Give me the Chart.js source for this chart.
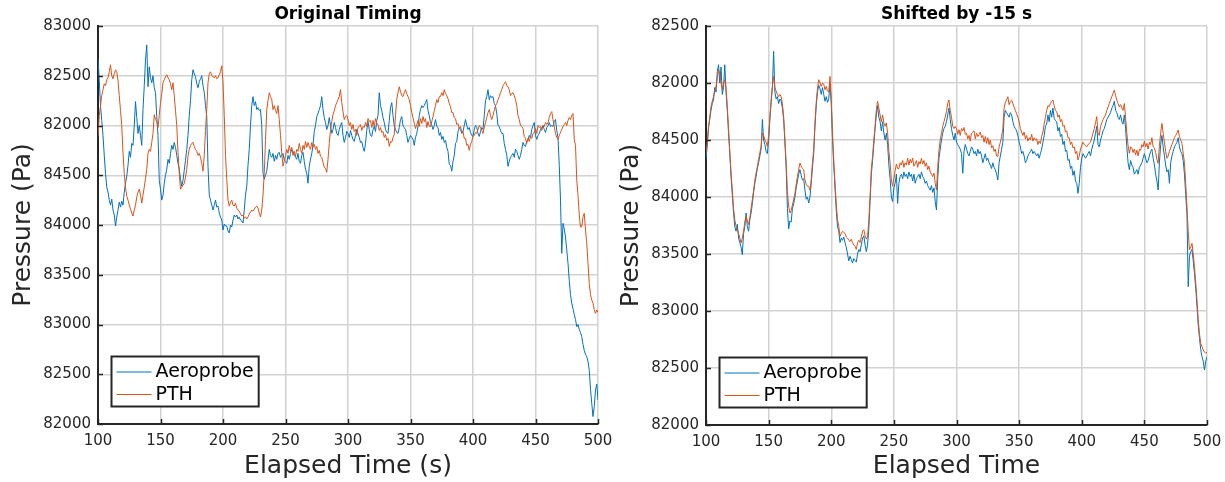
<!DOCTYPE html>
<html>
<head>
<meta charset="utf-8">
<script src="https://cdn.jsdelivr.net/npm/chart.js@4.4.1/dist/chart.umd.min.js"></script>
<style>
  html, body { margin: 0; padding: 0; background: #ffffff; }
  #wrap { position: relative; width: 1225px; height: 482px; overflow: hidden; }
  canvas { position: absolute; top: 0; }
  #c1 { left: 0; }
  #c2 { left: 614px; }
</style>
</head>
<body>
<div id="wrap">
  <canvas id="c1" width="614" height="482"></canvas>
  <canvas id="c2" width="611" height="482"></canvas>
</div>
<script>
// Sampling of every series: one value per second from t = 100 s to t = 500 s
const timeStart = 100;
const timeStep = 1;

// Axis tick labels (bottom to top)
const xTicks = [100, 150, 200, 250, 300, 350, 400, 450, 500];
const leftYTickLabels = ['82000', '82500', '83000', '83500', '84000', '84500', '82000', '82500', '83000'];
const rightYTickLabels = ['82000', '82500', '83000', '83500', '84000', '84500', '82000', '82500'];

const seriesNames = ['Aeroprobe', 'PTH'];

// Original timing - Aeroprobe pressure (Pa)
const aeroprobeOriginal = [
  85680, 85450, 85200, 85050, 84900, 84700, 84520, 84380, 84330, 84250,
  84200, 84260, 84150, 84100, 83990, 84080, 84150, 84230, 84180, 84240,
  84200, 84330, 84420, 84490, 84600, 84740, 84680, 84820, 84800, 85000,
  85240, 85080, 84920, 85000, 84900, 84800, 85160, 85400, 85660, 85810,
  85390, 85590, 85480, 85430, 85500, 85380, 85330, 85090, 84900, 84450,
  84360, 84250, 84300, 84420, 84500, 84560, 84660, 84620, 84720, 84800,
  84760, 84830, 84780, 84700, 84620, 84560, 84460, 84390, 84450, 84550,
  84650, 84760, 84900, 85100, 85250, 85460, 85560, 85520, 85490, 85420,
  85380, 85440, 85470, 85500, 85400, 85330, 85200, 85090, 84590, 84300,
  84250, 84200, 84150, 84200, 84250, 84180, 84190, 84120, 84080, 84050,
  83950, 84010, 83990, 83990, 83940, 83920, 84000, 83980, 84050, 84100,
  84080, 84100, 84060, 84080, 84050, 84040, 84020, 84150, 84300, 84390,
  84600, 84760, 85000, 85200, 85290, 85200, 85240, 85160, 85180, 85150,
  85160, 85000, 84520, 84460, 84500, 84540, 84650, 84760, 84700, 84680,
  84720, 84640, 84700, 84660, 84720, 84730, 84680, 84700, 84720, 84650,
  84640, 84620, 84700, 84660, 84720, 84760, 84740, 84700, 84680, 84660,
  84720, 84640, 84620, 84700, 84730, 84640, 84560, 84520, 84420, 84590,
  84660, 84720, 84800, 84940, 85000, 85090, 85120, 85160, 85200, 85290,
  85160, 85080, 85030, 84960, 85000, 85080, 85000, 84920, 84960, 85030,
  84980, 84920, 84900, 84960, 85000, 85030, 84900, 84830, 84880, 84940,
  84920, 84880, 84950, 84900, 84860, 84840, 84900, 84960, 84920, 84880,
  84830, 84840, 84780, 84740, 84820, 84950, 85040, 84960, 84900, 84890,
  84960, 84990, 84940, 85050, 85100, 85330, 85200, 85150, 85080, 85030,
  84960, 84930, 84920, 85050, 85180, 85230, 85100, 85000, 84960, 84930,
  84920, 84980, 85060, 85090, 85000, 84980, 84960, 84900, 84830, 84870,
  84900, 84880, 84860, 84800, 84880, 84920, 84990, 85100, 85160, 85200,
  85180, 85200, 85230, 85260, 85150, 85100, 85030, 85000, 84960, 85000,
  85060, 84990, 84980, 84900, 84930, 84860, 84890, 84830, 84850, 84780,
  84740, 84610, 84600, 84540, 84640, 84700, 84820, 84840, 84940, 84980,
  84960, 84920, 84940, 85000, 85060, 85000, 84960, 84980, 84930, 84900,
  84890, 84960, 85000, 84980, 84920, 84890, 84940, 84980, 84960, 85100,
  85250, 85290, 85360, 85260, 85300, 85280, 85290, 85220, 85200, 85120,
  85000, 84990, 84950, 84920, 84920, 84820, 84760, 84700, 84590, 84640,
  84680, 84700, 84720, 84680, 84760, 84740, 84700, 84660, 84700, 84760,
  84830, 84800, 84790, 84840, 84860, 84900, 84880, 84960, 85000, 85030,
  84900, 84860, 84900, 84920, 84960, 84980, 85000, 84960, 84930, 84980,
  85000, 85030, 84990, 85000, 84990, 85040, 85060, 84950, 84880, 84600,
  84250, 83715, 84017, 83960, 83880, 83750, 83615, 83440, 83300, 83213,
  83160, 83100, 83050, 82978, 83000, 82950, 82920, 82878, 82800, 82740,
  82700, 82676, 82630, 82540, 82350, 82208, 82074, 82174, 82342, 82400,
  82241
];

// Original timing - PTH pressure (Pa)
const pthOriginal = [
  84890, 85100, 85200, 85300, 85360, 85420, 85400, 85460, 85480, 85540,
  85610, 85500, 85470, 85520, 85560, 85540, 85450, 85300, 85150, 85000,
  84720, 84520, 84380, 84290, 84250, 84200, 84160, 84120, 84090, 84150,
  84200, 84280, 84330, 84360, 84300, 84220, 84300, 84380, 84470, 84560,
  84720, 84760, 84740, 84830, 84920, 85110, 85060, 85040, 84980, 85100,
  85230, 85320, 85430, 85460, 85490, 85510, 85480, 85460, 85420, 85360,
  85430, 85300, 85150, 85000, 84730, 84520, 84360, 84380, 84400, 84420,
  84480, 84560, 84690, 84760, 84800, 84820, 84830, 84790, 84760, 84740,
  84700, 84720, 84680, 84620, 84540, 84700, 84950, 85160, 85430, 85520,
  85540, 85500, 85490, 85480, 85500, 85470, 85480, 85510, 85540, 85600,
  85430, 85100, 84700, 84460, 84250, 84190, 84230, 84250, 84200, 84190,
  84220, 84170, 84150, 84140, 84110, 84090, 84100, 84070, 84080, 84060,
  84080, 84110, 84130, 84150, 84140, 84160, 84180, 84190, 84170, 84120,
  84080, 84150, 84300, 84520, 84850, 85160, 85250, 85330, 85290, 85260,
  85160, 85200, 85150, 85120, 85200, 85060, 84900, 84720, 84590, 84640,
  84700, 84760, 84720, 84800, 84740, 84780, 84700, 84740, 84690, 84760,
  84740, 84820, 84760, 84720, 84800, 84760, 84840, 84780, 84830, 84790,
  84760, 84830, 84780, 84810, 84760, 84790, 84720, 84750, 84690, 84680,
  84630, 84580, 84570, 84530, 84660, 84820, 84960, 85040, 85110, 85150,
  85200, 85230, 85260, 85290, 85360, 85230, 85140, 85060, 85090, 85100,
  85060, 85000, 85030, 84960, 85010, 84940, 84960, 84900, 84980, 84990,
  85010, 84950, 84990, 84980, 85030, 84990, 85070, 85040, 85050, 84980,
  85050, 84990, 85070, 85020, 85010, 84950, 84980, 84930, 84940, 84880,
  84910, 84850, 84870, 84790, 84840, 84830, 84880, 84910, 85100, 85260,
  85330, 85390, 85340, 85300, 85290, 85330, 85360, 85320, 85290, 85260,
  85200, 85130, 85080, 85020, 84970, 85010, 85050, 84990, 85070, 85020,
  85090, 85040, 85070, 84980, 85040, 84990, 84990, 85040, 85090, 85150,
  85200, 85260, 85230, 85290, 85290, 85330, 85300, 85360, 85320, 85300,
  85270, 85220, 85190, 85130, 85130, 85080, 85070, 85010, 85020, 84970,
  84990, 84930, 84940, 84870, 84870, 84800, 84810, 84750, 84810, 84840,
  84890, 84900, 84930, 84920, 84960, 85000, 84980, 84950, 84920, 84980,
  85030, 85080, 85130, 85160, 85100, 85060, 85100, 85150, 85200, 85220,
  85260, 85290, 85330, 85360, 85400, 85420, 85440, 85400, 85390, 85360,
  85300, 85320, 85330, 85300, 85260, 85200, 85100, 85060, 85000, 84990,
  84970, 84890, 84870, 84820, 84870, 84840, 84890, 84870, 84920, 84930,
  84970, 84920, 85000, 84980, 84990, 84950, 85000, 84990, 85030, 85010,
  85030, 85080, 85120, 85140, 85060, 84990, 84920, 84880, 84860, 84900,
  84930, 84960, 84990, 85010, 85030, 85000, 85050, 85080, 85060, 85100,
  85120, 84860, 84800, 84450, 84300, 84100, 83980, 83980, 84084, 84118,
  83950, 83820, 83615, 83413, 83300, 83246, 83213, 83150, 83112, 83146,
  83120
];

// Shifted by -15 s - Aeroprobe pressure (Pa)
const aeroprobeShifted = [
  84330, 84450, 84620, 84680, 84760, 84820, 84850, 84960, 84920, 85100,
  85160, 85000, 85140, 84900, 84960, 85160, 84920, 84760, 84560, 84380,
  84180, 84020, 83860, 83740, 83700, 83760, 83640, 83600, 83560, 83494,
  83680, 83740, 83860, 83740, 83700, 83800, 83860, 83940, 84040, 84120,
  84180, 84250, 84300, 84360, 84420, 84680, 84500, 84460, 84400, 84380,
  84500, 84680, 84830, 84960, 85278, 84920, 84860, 84880, 84820, 84860,
  84840, 84780, 84680, 84480, 84250, 83900, 83720, 83790, 83780, 83900,
  83940, 84000, 84080, 84140, 84200, 84240, 84190, 84150, 84160, 84060,
  83980, 84000, 83947, 84000, 84120, 84260, 84380, 84620, 84800, 84920,
  84980, 84950, 84900, 84960, 84900, 84840, 84880, 84830, 84860, 85000,
  84820, 84520, 84280, 84080, 83880, 83740, 83700, 83600, 83640, 83620,
  83650, 83600, 83560, 83500, 83440, 83480, 83450, 83420, 83460, 83440,
  83430, 83500, 83540, 83520, 83580, 83640, 83660, 83580, 83520, 83580,
  83720, 83960, 84200, 84320, 84460, 84600, 84720, 84800, 84700, 84660,
  84580, 84660, 84560, 84500, 84560, 84460, 84280, 84160, 84000, 83960,
  84080, 84120, 84200, 83944, 84120, 84180, 84200, 84160, 84220, 84180,
  84200, 84160, 84220, 84180, 84200, 84140, 84200, 84120, 84160, 84180,
  84200, 84160, 84220, 84180, 84160, 84120, 84140, 84100, 84080, 84060,
  84100, 84040, 84080, 83960, 83886, 84160, 84340, 84420, 84500, 84560,
  84600, 84620, 84660, 84720, 84780, 84680, 84600, 84540, 84500, 84560,
  84480, 84460, 84440, 84420, 84380, 84208, 84400, 84460, 84420, 84380,
  84360, 84400, 84440, 84420, 84380, 84400, 84360, 84420, 84380, 84400,
  84360, 84300, 84340, 84380, 84320, 84340, 84300, 84280, 84250, 84300,
  84260, 84240, 84200, 84149, 84300, 84360, 84420, 84480, 84700, 84760,
  84740, 84720, 84700, 84740, 84720, 84660, 84620, 84600, 84580, 84540,
  84480, 84440, 84380, 84400, 84360, 84300, 84320, 84360, 84380, 84400,
  84420, 84380, 84400, 84380, 84360, 84380, 84340, 84380, 84420, 84480,
  84540, 84620, 84640, 84720, 84660, 84760, 84700, 84780, 84690, 84670,
  84660, 84580, 84610, 84530, 84550, 84460, 84490, 84400, 84410, 84320,
  84330, 84250, 84270, 84190, 84230, 84140, 84120, 84032, 84120, 84260,
  84340, 84380, 84360, 84340, 84360, 84380, 84400, 84360, 84420, 84460,
  84500, 84560, 84620, 84460, 84440, 84500, 84540, 84580, 84600, 84640,
  84680, 84700, 84720, 84740, 84780, 84800, 84840, 84760, 84740, 84700,
  84680, 84720, 84660, 84640, 84720, 84600, 84440, 84300, 84240, 84320,
  84280, 84260, 84200, 84220, 84240, 84200, 84260, 84280, 84300, 84340,
  84380, 84340, 84300, 84320, 84360, 84400, 84420, 84340, 84280, 84200,
  84140, 84061, 84300, 84460, 84540, 84440, 84360, 84280, 84220, 84240,
  84120, 84300, 84360, 84400, 84440, 84460, 84480, 84520, 84440, 84400,
  84380, 84320, 84200, 84020, 83850, 83213, 83480, 83520, 83540, 83440,
  83330, 83200, 83040, 82880, 82760, 82660, 82600, 82560, 82483, 82560,
  82600
];

// Shifted by -15 s - PTH pressure (Pa)
const pthShifted = [
  84386, 84480, 84600, 84700, 84795, 84840, 84880, 84930, 84970, 85040,
  85117, 85080, 85000, 84942, 85000, 85029, 84960, 84800, 84600, 84400,
  84210, 84060, 83900, 83800, 83743, 83720, 83680, 83640, 83596, 83640,
  83700, 83780, 83830, 83790, 83760, 83820, 83900, 83977, 84060, 84150,
  84210, 84269, 84330, 84390, 84444, 84561, 84540, 84500, 84480, 84444,
  84540, 84700, 84850, 84971, 85058, 84960, 84930, 84900, 84880, 84900,
  84880, 84820, 84708, 84500, 84300, 84050, 83918, 83860, 83880, 83930,
  83980, 84030, 84110, 84180, 84240, 84298, 84270, 84250, 84240, 84150,
  84110, 84094, 84094, 84060, 84150, 84300, 84415, 84649, 84830, 84950,
  85029, 85000, 84970, 85000, 84990, 84940, 84970, 84930, 84920, 85058,
  84850, 84560, 84320, 84123, 83940, 83800, 83743, 83655, 83680, 83700,
  83690, 83680, 83650, 83640, 83620, 83610, 83630, 83600, 83580, 83567,
  83540, 83600, 83620, 83600, 83650, 83700, 83713, 83660, 83630, 83650,
  83800, 84000, 84250, 84357, 84500, 84620, 84766, 84839, 84780, 84720,
  84660, 84720, 84650, 84620, 84650, 84560, 84400, 84298, 84152, 84094,
  84160, 84230, 84290, 84250, 84250, 84300, 84280, 84320, 84260, 84300,
  84280, 84340, 84280, 84330, 84300, 84340, 84270, 84290, 84320, 84260,
  84310, 84290, 84340, 84290, 84320, 84270, 84300, 84240, 84270, 84220,
  84200, 84178, 84210, 84120, 84061, 84260, 84410, 84500, 84558, 84620,
  84660, 84700, 84750, 84822, 84851, 84760, 84700, 84620, 84600, 84620,
  84600, 84550, 84590, 84540, 84600, 84580, 84610, 84550, 84560, 84510,
  84540, 84490, 84560, 84570, 84580, 84510, 84560, 84530, 84550, 84570,
  84520, 84540, 84480, 84530, 84470, 84520, 84460, 84500, 84430, 84450,
  84400, 84420, 84360, 84354, 84440, 84480, 84530, 84600, 84780, 84830,
  84851, 84880, 84810, 84840, 84851, 84820, 84790, 84760, 84730, 84700,
  84660, 84600, 84570, 84540, 84570, 84510, 84540, 84490, 84520, 84500,
  84550, 84490, 84520, 84500, 84510, 84460, 84490, 84470, 84530, 84570,
  84640, 84700, 84760, 84800, 84792, 84820, 84840, 84851, 84800, 84760,
  84750, 84700, 84720, 84660, 84680, 84620, 84630, 84570, 84580, 84520,
  84520, 84460, 84480, 84430, 84440, 84380, 84400, 84325, 84360, 84420,
  84450, 84480, 84460, 84450, 84440, 84460, 84470, 84480, 84520, 84560,
  84600, 84650, 84705, 84560, 84540, 84620, 84650, 84680, 84700, 84720,
  84760, 84790, 84820, 84850, 84880, 84910, 84939, 84890, 84850, 84820,
  84790, 84810, 84780, 84760, 84820, 84700, 84560, 84450, 84383, 84440,
  84430, 84390, 84420, 84370, 84410, 84360, 84420, 84410, 84460, 84440,
  84490, 84440, 84470, 84420, 84480, 84460, 84520, 84440, 84430, 84390,
  84330, 84295, 84450, 84560, 84646, 84560, 84480, 84400, 84340, 84360,
  84400, 84430, 84460, 84490, 84520, 84540, 84560, 84588, 84530, 84500,
  84470, 84384, 84300, 84120, 83916, 83700, 83535, 83560, 83594, 83500,
  83389, 83250, 83100, 82921, 82800, 82716, 82687, 82658, 82640, 82629,
  82640
];

const FONT = "'DejaVu Sans', 'Noto Sans', sans-serif";
const INK = '#262626';
const GRID = '#d2d2d2';
const BLUE = '#0072BD';
const ORANGE = '#D95319';

Chart.defaults.font.family = FONT;
Chart.defaults.color = INK;

function toPoints(values) {
  return values.map((v, i) => ({ x: timeStart + i * timeStep, y: v }));
}

// Bold title centred over the plot area
const plotTitle = {
  id: 'plotTitle',
  afterDraw(chart, args, opts) {
    const { ctx, chartArea: a } = chart;
    ctx.save();
    ctx.font = 'bold 17px ' + FONT;
    ctx.fillStyle = '#000000';
    ctx.textAlign = 'center';
    ctx.textBaseline = 'middle';
    ctx.fillText(opts.text, (a.left + a.right) / 2, 15);
    ctx.restore();
  }
};

// Short inward tick marks on the left and bottom axes
const innerTicks = {
  id: 'innerTicks',
  afterDatasetsDraw(chart) {
    const { ctx, chartArea: a, scales: { x, y } } = chart;
    ctx.save();
    ctx.strokeStyle = INK;
    ctx.lineWidth = 1.5;
    ctx.beginPath();
    x.ticks.forEach(t => {
      const px = Math.round(x.getPixelForValue(t.value)) + 0.5;
      ctx.moveTo(px, a.bottom);
      ctx.lineTo(px, a.bottom - 5);
    });
    y.ticks.forEach(t => {
      const py = Math.round(y.getPixelForValue(t.value)) + 0.5;
      ctx.moveTo(a.left, py);
      ctx.lineTo(a.left + 5, py);
    });
    ctx.stroke();
    ctx.restore();
  }
};

// Boxed legend in the lower-left corner of the plot area
const boxLegend = {
  id: 'boxLegend',
  afterDraw(chart) {
    const { ctx, chartArea: a } = chart;
    const sets = chart.data.datasets;
    ctx.save();
    ctx.font = '19px ' + FONT;
    let textW = 0;
    sets.forEach(d => { textW = Math.max(textW, ctx.measureText(d.label).width); });
    const left = a.left + 13.5;
    const top = a.bottom - 67.5;
    const w = 44 + textW + 5;
    const h = 50;
    ctx.fillStyle = '#ffffff';
    ctx.fillRect(left, top, w, h);
    ctx.strokeStyle = INK;
    ctx.lineWidth = 2;
    ctx.strokeRect(left, top, w, h);
    sets.forEach((d, i) => {
      const cy = top + 15 + i * 22.5;
      ctx.strokeStyle = d.borderColor;
      ctx.lineWidth = 1;
      ctx.beginPath();
      ctx.moveTo(left + 5, cy + 0.5);
      ctx.lineTo(left + 40, cy + 0.5);
      ctx.stroke();
      ctx.fillStyle = '#000000';
      ctx.textBaseline = 'middle';
      ctx.textAlign = 'left';
      ctx.fillText(d.label, left + 44, cy + 1);
    });
    ctx.restore();
  }
};

function makeChart(canvasId, cfg) {
  return new Chart(document.getElementById(canvasId), {
    type: 'line',
    data: {
      datasets: [
        { label: seriesNames[0], data: toPoints(cfg.aero), borderColor: BLUE, borderWidth: 1, pointRadius: 0, tension: 0, order: 1 },
        { label: seriesNames[1], data: toPoints(cfg.pth), borderColor: ORANGE, borderWidth: 1, pointRadius: 0, tension: 0, order: 0 }
      ]
    },
    options: {
      responsive: false,
      animation: false,
      events: [],
      layout: { padding: { left: 0, right: cfg.padRight, top: 26, bottom: 0 } },
      plugins: {
        legend: { display: false },
        tooltip: { enabled: false },
        title: { display: false },
        plotTitle: { text: cfg.title }
      },
      scales: {
        x: {
          type: 'linear',
          min: 100,
          max: 500,
          afterBuildTicks: s => { s.ticks = xTicks.map(v => ({ value: v })); },
          afterFit: s => { s.height = cfg.xAxisHeight; s.paddingLeft = 0; s.paddingRight = 0; },
          ticks: { color: INK, font: { size: 15 }, padding: 8, maxRotation: 0, autoSkip: false },
          grid: { color: GRID, lineWidth: 1.5, drawTicks: false },
          border: { color: INK, width: 2 },
          title: {
            display: true,
            text: cfg.xTitle,
            color: INK,
            font: { size: 25, lineHeight: 1.2 },
            padding: { top: 0, bottom: 1 }
          }
        },
        y: {
          type: 'linear',
          min: cfg.yMin,
          max: cfg.yMax,
          afterFit: s => { s.width = cfg.yAxisWidth; },
          ticks: {
            stepSize: 500,
            color: INK,
            font: { size: 15 },
            padding: 7,
            callback: (v, i) => cfg.yLabels[i]
          },
          grid: { color: GRID, lineWidth: 1.5, drawTicks: false },
          border: { color: INK, width: 2 },
          title: {
            display: true,
            text: 'Pressure (Pa)',
            color: INK,
            font: { size: 25, lineHeight: 1.2 },
            padding: { top: cfg.yTitlePad, bottom: 0 }
          }
        }
      }
    },
    plugins: [plotTitle, innerTicks, boxLegend]
  });
}

makeChart('c1', {
  title: 'Original Timing',
  xTitle: 'Elapsed Time (s)',
  aero: aeroprobeOriginal,
  pth: pthOriginal,
  yMin: 82000, yMax: 86000,
  yLabels: leftYTickLabels,
  yAxisWidth: 98,
  yTitlePad: 8,
  xAxisHeight: 58,
  padRight: 16
});

makeChart('c2', {
  title: 'Shifted by -15 s',
  xTitle: 'Elapsed Time',
  aero: aeroprobeShifted,
  pth: pthShifted,
  yMin: 82000, yMax: 85500,
  yLabels: rightYTickLabels,
  yAxisWidth: 92,
  yTitlePad: 2,
  xAxisHeight: 57,
  padRight: 18
});
</script>
</body>
</html>
